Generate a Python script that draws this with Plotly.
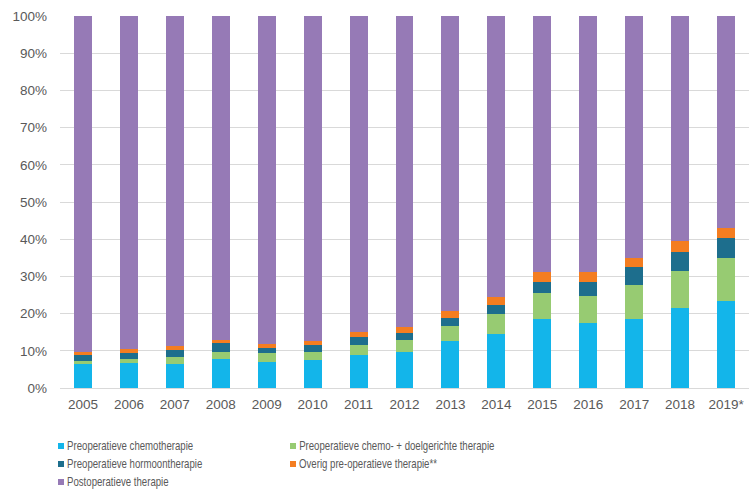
import plotly.graph_objects as go

years = ["2005", "2006", "2007", "2008", "2009", "2010", "2011", "2012",
         "2013", "2014", "2015", "2016", "2017", "2018", "2019*"]

chemo = [6.5, 6.8, 6.5, 7.8, 7.0, 7.5, 8.9, 9.7, 12.7, 14.6, 18.6, 17.5, 18.6, 21.5, 23.4]
chemo_doel = [0.7, 1.0, 1.9, 1.8, 2.4, 2.1, 2.6, 3.1, 4.1, 5.4, 7.0, 7.2, 9.2, 10.0, 11.6]
hormoon = [1.7, 1.5, 1.9, 2.6, 1.4, 1.9, 2.2, 2.1, 2.1, 2.4, 3.0, 3.9, 4.6, 5.0, 5.4]
overig = [0.7, 1.1, 0.9, 0.7, 1.1, 1.1, 1.3, 1.6, 1.7, 2.0, 2.6, 2.6, 2.6, 3.0, 2.7]
post = [90.4, 89.6, 88.8, 87.1, 88.1, 87.4, 85.0, 83.5, 79.4, 75.6, 68.8, 68.8, 65.0, 60.5, 56.9]

y_ticks = [0, 10, 20, 30, 40, 50, 60, 70, 80, 90, 100]
y_tick_labels = ["0%", "10%", "20%", "30%", "40%", "50%", "60%", "70%", "80%", "90%", "100%"]

series_names = [
    "Preoperatieve chemotherapie",
    "Preoperatieve chemo- + doelgerichte therapie",
    "Preoperatieve hormoontherapie",
    "Overig pre-operatieve therapie**",
    "Postoperatieve therapie",
]
series_values = [chemo, chemo_doel, hormoon, overig, post]
series_colors = ["#13B5EA", "#97CB72", "#1D6E8D", "#F47D20", "#967AB6"]

W, H = 754, 490
PL, PR, PT, PB = 60, 5, 16, 102  # plot margins in px
plot_w = W - PL - PR
plot_h = H - PT - PB


def px_x(px):
    return (px - PL) / plot_w


def px_y(py):
    return (H - PB - py) / plot_h


fig = go.Figure()
for name, vals, color in zip(series_names, series_values, series_colors):
    fig.add_trace(go.Bar(
        x=years, y=vals, name=name,
        marker=dict(color=color, line=dict(width=0)),
        showlegend=False,
    ))

# manual legend (two columns, small square swatches)
legend_cols = [58, 290]
legend_rows = [446, 464, 482]
shapes = []
annotations = []
for i, (name, color) in enumerate(zip(series_names, series_colors)):
    cx = legend_cols[i % 2]
    cy = legend_rows[i // 2]
    shapes.append(dict(
        type="rect", xref="paper", yref="paper",
        x0=px_x(cx), x1=px_x(cx + 6), y0=px_y(cy + 3), y1=px_y(cy - 3),
        fillcolor=color, line=dict(width=0),
    ))
    annotations.append(dict(
        xref="paper", yref="paper", x=px_x(cx + 7), y=px_y(cy),
        xanchor="left", yanchor="middle", showarrow=False,
        text=name,
        font=dict(family="Liberation Sans, Arial, sans-serif",
                  size=12.5, color="#595959"),
    ))

fig.update_layout(
    barmode="stack",
    bargap=0.61,
    width=W, height=H,
    margin=dict(l=PL, r=PR, t=PT, b=PB),
    paper_bgcolor="white",
    plot_bgcolor="white",
    font=dict(family="Liberation Sans, Arial, sans-serif", size=13.5, color="#595959"),
    xaxis=dict(
        showline=True, linecolor="#D9D9D9", linewidth=1,
        ticks="", showgrid=False,
        ticklabelstandoff=4,
        tickfont=dict(size=13.5, color="#595959"),
    ),
    yaxis=dict(
        range=[0, 100],
        tickvals=y_ticks, ticktext=y_tick_labels,
        showgrid=True, gridcolor="#D9D9D9", gridwidth=1,
        zeroline=False, showline=False, ticks="",
        ticklabelstandoff=12,
        tickfont=dict(size=13.5, color="#595959"),
    ),
    shapes=shapes,
    annotations=annotations,
    showlegend=False,
)

# page without body margin; legend labels narrowed like the condensed original font
post_js = """
document.body.style.margin='0';
var gd = document.getElementById('{plot_id}');
function narrowLegend(){
  gd.querySelectorAll('.annotation-text').forEach(function(t){
    t.removeAttribute('transform');
    var b = t.getBBox();
    var x0 = b.x;
    t.setAttribute('transform', 'translate(' + x0 + ',0) scale(0.77,1) translate(' + (-x0) + ',0)');
  });
}
narrowLegend();
gd.on('plotly_afterplot', narrowLegend);
"""

fig.write_html("out.html", post_script=post_js,
               config={"displayModeBar": False, "responsive": False})
